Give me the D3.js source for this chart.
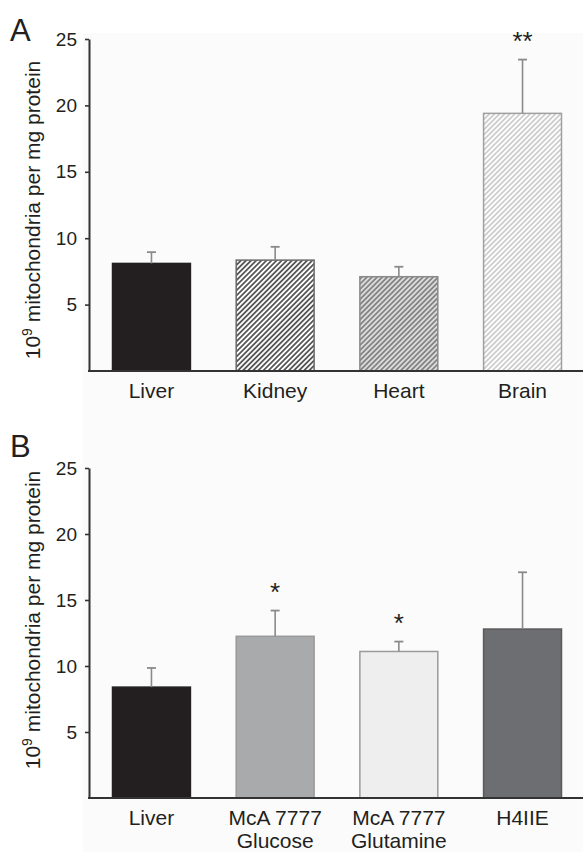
<!DOCTYPE html>
<html>
<head>
<meta charset="utf-8">
<script src="https://cdn.jsdelivr.net/npm/d3@7"></script>
<style>
  html, body { margin: 0; padding: 0; background: #ffffff; }
  svg { display: block; }
  text { font-family: "Liberation Sans", Arial, Helvetica, sans-serif; fill: #231f20; }
</style>
</head>
<body>
<script>
// ---- data ----
const categoriesA = ["Liver", "Kidney", "Heart", "Brain"];
const valuesA = [8.1, 8.35, 7.1, 19.4];
const errorsA = [0.85, 1.0, 0.75, 4.05];
const signifA = ["", "", "", "**"];

const categoriesB = [["Liver"], ["McA 7777", "Glucose"], ["McA 7777", "Glutamine"], ["H4IIE"]];
const valuesB = [8.4, 12.25, 11.1, 12.8];
const errorsB = [1.45, 1.95, 0.75, 4.3];
const signifB = ["", "*", "*", ""];

const yTickValues = [5, 10, 15, 20, 25];
const yDomain = [0, 25];
const panelLetters = ["A", "B"];
const yTitleMain = " mitochondria per mg protein";

// ---- drawing ----
const W = 583, H = 852;
const svg = d3.select("body").append("svg").attr("width", W).attr("height", H);

// hatch patterns
const defs = svg.append("defs");
function hatch(id, bg, line, lw, size) {
  const p = defs.append("pattern").attr("id", id)
    .attr("patternUnits", "userSpaceOnUse")
    .attr("width", size).attr("height", size)
    .attr("patternTransform", "rotate(45)");
  p.append("rect").attr("width", size).attr("height", size).attr("fill", bg);
  p.append("line").attr("x1", size / 2).attr("y1", 0).attr("x2", size / 2).attr("y2", size)
    .attr("stroke", line).attr("stroke-width", lw);
}
hatch("hKidney", "#ffffff", "#4d4d4d", 1.7, 3.6);
hatch("hHeart", "#dcdcdc", "#808080", 1.7, 3.6);
hatch("hBrain", "#ffffff", "#c4c4c4", 1.5, 3.6);

// faint plot background
svg.append("rect").attr("x", 83).attr("y", 33).attr("width", W - 83).attr("height", H - 33)
  .attr("fill", "#fbfbfb");

const stylesA = [
  { fill: "#231f20", stroke: "#231f20" },
  { fill: "url(#hKidney)", stroke: "#6a6a6a" },
  { fill: "url(#hHeart)", stroke: "#8a8a8a" },
  { fill: "url(#hBrain)", stroke: "#a0a0a0" }
];
const stylesB = [
  { fill: "#231f20", stroke: "#231f20" },
  { fill: "#a9aaac", stroke: "#9a9a9a" },
  { fill: "#eeeeee", stroke: "#9a9a9a" },
  { fill: "#6d6e71", stroke: "#5a5a5c" }
];

function panel(cfg) {
  const g = svg.append("g");
  const x = d3.scaleBand().domain(d3.range(cfg.values.length))
    .range([89, 585]).paddingInner(0.37).paddingOuter(0.19);
  const y = d3.scaleLinear().domain(yDomain).range([cfg.y0, cfg.y1]);

  // bars
  g.selectAll("rect.bar").data(cfg.values).join("rect")
    .attr("class", "bar")
    .attr("x", (d, i) => x(i))
    .attr("y", d => y(d))
    .attr("width", x.bandwidth())
    .attr("height", d => y(0) - y(d))
    .attr("fill", (d, i) => cfg.styles[i].fill)
    .attr("stroke", (d, i) => cfg.styles[i].stroke)
    .attr("stroke-width", 1.5);

  // error bars (upper only)
  const eb = g.selectAll("g.err").data(cfg.values).join("g").attr("class", "err");
  eb.append("line")
    .attr("x1", (d, i) => x(i) + x.bandwidth() / 2)
    .attr("x2", (d, i) => x(i) + x.bandwidth() / 2)
    .attr("y1", d => y(d))
    .attr("y2", (d, i) => y(d + cfg.errors[i]))
    .attr("stroke", "#8a8a8a").attr("stroke-width", 1.6);
  eb.append("line")
    .attr("x1", (d, i) => x(i) + x.bandwidth() / 2 - 4.5)
    .attr("x2", (d, i) => x(i) + x.bandwidth() / 2 + 4.5)
    .attr("y1", (d, i) => y(d + cfg.errors[i]))
    .attr("y2", (d, i) => y(d + cfg.errors[i]))
    .attr("stroke", "#8a8a8a").attr("stroke-width", 1.8);

  // significance marks
  g.selectAll("text.sig").data(cfg.values).join("text")
    .attr("class", "sig")
    .attr("x", (d, i) => x(i) + x.bandwidth() / 2)
    .attr("y", (d, i) => y(d + cfg.errors[i]) - 10)
    .attr("text-anchor", "middle")
    .attr("font-size", 26)
    .text((d, i) => cfg.signif[i]);

  // y axis
  const ya = g.append("g").attr("transform", "translate(89,0)")
    .call(d3.axisLeft(y).tickValues(yTickValues).tickSize(4).tickPadding(8).tickSizeOuter(0));
  ya.select(".domain").attr("stroke", "#333").attr("stroke-width", 2);
  ya.selectAll(".tick line").attr("stroke", "#333").attr("stroke-width", 1.6);
  ya.selectAll(".tick text").attr("font-size", 19).attr("fill", "#231f20")
    .attr("font-family", "Liberation Sans, Arial, sans-serif");

  // x baseline
  g.append("line").attr("x1", 88).attr("x2", W).attr("y1", y(0)).attr("y2", y(0))
    .attr("stroke", "#333").attr("stroke-width", 2);

  // category labels
  const lbl = g.selectAll("text.cat").data(cfg.categories).join("text")
    .attr("class", "cat")
    .attr("text-anchor", "middle")
    .attr("font-size", 21)
    .attr("x", (d, i) => x(i) + x.bandwidth() / 2)
    .attr("y", y(0) + 27);
  lbl.each(function(d) {
    const t = d3.select(this);
    const lines = Array.isArray(d) ? d : [d];
    lines.forEach((s, k) => {
      t.append("tspan").attr("x", t.attr("x")).attr("dy", k === 0 ? 0 : 23).text(s);
    });
  });

  // y axis title
  const tt = g.append("text")
    .attr("transform", `translate(40,${cfg.titleY}) rotate(-90)`)
    .attr("text-anchor", "middle")
    .attr("font-size", 21);
  tt.append("tspan").text("10");
  tt.append("tspan").attr("font-size", 14).attr("dy", -8).text("9");
  tt.append("tspan").attr("dy", 8).text(yTitleMain);

  // panel letter
  g.append("text").attr("x", 10).attr("y", cfg.letterY)
    .attr("font-size", 31).text(cfg.letter);
}

panel({ values: valuesA, errors: errorsA, signif: signifA, categories: categoriesA,
        styles: stylesA, y0: 371, y1: 39, titleY: 210, letter: panelLetters[0], letterY: 41 });
panel({ values: valuesB, errors: errorsB, signif: signifB, categories: categoriesB,
        styles: stylesB, y0: 798, y1: 468, titleY: 620, letter: panelLetters[1], letterY: 457 });
</script>
</body>
</html>
